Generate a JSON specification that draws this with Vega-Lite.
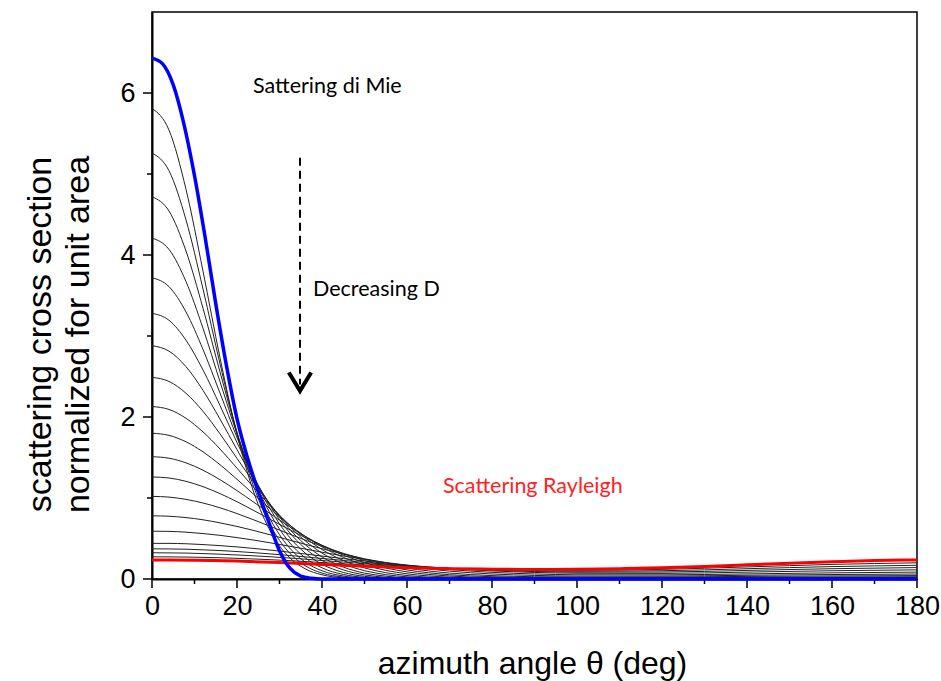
{
"$schema": "https://vega.github.io/schema/vega-lite/v6.json",
"width": 765, "height": 567,
"autosize": {"type": "none"},
"padding": {"left": 152, "top": 12, "right": 24, "bottom": 102},
"background": "white",
"config": {
  "view": {"stroke": "black", "strokeWidth": 1.5},
  "axis": {"grid": false, "domainColor": "black", "domainWidth": 2, "ticks": false,
           "labelFont": "Liberation Sans", "labelFontSize": 27, "labelColor": "black", "labelFlush": false,
           "titleFont": "Liberation Sans", "titleFontWeight": "normal", "titleColor": "black"}
},
"datasets": {
"mie": [
{"c":"b01","x":0,"y":5.81},{"c":"b01","x":4,"y":5.542},{"c":"b01","x":8,"y":4.811},{"c":"b01","x":12,"y":3.8},{"c":"b01","x":16,"y":2.731},{"c":"b01","x":20,"y":1.786},{"c":"b01","x":24,"y":1.063},{"c":"b01","x":28,"y":0.575},{"c":"b01","x":32,"y":0.284},{"c":"b01","x":36,"y":0.127},{"c":"b01","x":40,"y":0.052},{"c":"b01","x":45,"y":0.015},{"c":"b01","x":50,"y":0.004},{"c":"b01","x":55,"y":0},{"c":"b01","x":60,"y":0},{"c":"b01","x":70,"y":0},{"c":"b01","x":80,"y":0},{"c":"b01","x":90,"y":0},{"c":"b01","x":100,"y":0},{"c":"b01","x":120,"y":0},{"c":"b01","x":140,"y":0},{"c":"b01","x":160,"y":0},{"c":"b01","x":180,"y":0},
{"c":"b02","x":0,"y":5.26},{"c":"b02","x":4,"y":5.04},{"c":"b02","x":8,"y":4.434},{"c":"b02","x":12,"y":3.581},{"c":"b02","x":16,"y":2.656},{"c":"b02","x":20,"y":1.808},{"c":"b02","x":24,"y":1.13},{"c":"b02","x":28,"y":0.649},{"c":"b02","x":32,"y":0.342},{"c":"b02","x":36,"y":0.165},{"c":"b02","x":40,"y":0.073},{"c":"b02","x":45,"y":0.024},{"c":"b02","x":50,"y":0.007},{"c":"b02","x":55,"y":0.002},{"c":"b02","x":60,"y":0},{"c":"b02","x":70,"y":0},{"c":"b02","x":80,"y":0},{"c":"b02","x":90,"y":0},{"c":"b02","x":100,"y":0},{"c":"b02","x":120,"y":0},{"c":"b02","x":140,"y":0},{"c":"b02","x":160,"y":0},{"c":"b02","x":180,"y":0},
{"c":"b03","x":0,"y":4.72},{"c":"b03","x":4,"y":4.543},{"c":"b03","x":8,"y":4.049},{"c":"b03","x":12,"y":3.343},{"c":"b03","x":16,"y":2.556},{"c":"b03","x":20,"y":1.81},{"c":"b03","x":24,"y":1.188},{"c":"b03","x":28,"y":0.722},{"c":"b03","x":32,"y":0.406},{"c":"b03","x":36,"y":0.211},{"c":"b03","x":40,"y":0.102},{"c":"b03","x":45,"y":0.037},{"c":"b03","x":50,"y":0.012},{"c":"b03","x":55,"y":0.003},{"c":"b03","x":60,"y":0.001},{"c":"b03","x":70,"y":0},{"c":"b03","x":80,"y":0},{"c":"b03","x":90,"y":0},{"c":"b03","x":100,"y":0},{"c":"b03","x":120,"y":0},{"c":"b03","x":140,"y":0},{"c":"b03","x":160,"y":0},{"c":"b03","x":180,"y":0},
{"c":"b04","x":0,"y":4.21},{"c":"b04","x":4,"y":4.069},{"c":"b04","x":8,"y":3.672},{"c":"b04","x":12,"y":3.095},{"c":"b04","x":16,"y":2.436},{"c":"b04","x":20,"y":1.791},{"c":"b04","x":24,"y":1.229},{"c":"b04","x":28,"y":0.789},{"c":"b04","x":32,"y":0.472},{"c":"b04","x":36,"y":0.264},{"c":"b04","x":40,"y":0.138},{"c":"b04","x":45,"y":0.056},{"c":"b04","x":50,"y":0.02},{"c":"b04","x":55,"y":0.007},{"c":"b04","x":60,"y":0.002},{"c":"b04","x":70,"y":0},{"c":"b04","x":80,"y":0},{"c":"b04","x":90,"y":0},{"c":"b04","x":100,"y":0},{"c":"b04","x":120,"y":0},{"c":"b04","x":140,"y":0},{"c":"b04","x":160,"y":0},{"c":"b04","x":180,"y":0},
{"c":"b05","x":0,"y":3.72},{"c":"b05","x":4,"y":3.609},{"c":"b05","x":8,"y":3.297},{"c":"b05","x":12,"y":2.834},{"c":"b05","x":16,"y":2.295},{"c":"b05","x":20,"y":1.748},{"c":"b05","x":24,"y":1.254},{"c":"b05","x":28,"y":0.847},{"c":"b05","x":32,"y":0.538},{"c":"b05","x":36,"y":0.322},{"c":"b05","x":40,"y":0.182},{"c":"b05","x":45,"y":0.081},{"c":"b05","x":50,"y":0.033},{"c":"b05","x":55,"y":0.012},{"c":"b05","x":60,"y":0.004},{"c":"b05","x":70,"y":0},{"c":"b05","x":80,"y":0},{"c":"b05","x":90,"y":0},{"c":"b05","x":100,"y":0},{"c":"b05","x":120,"y":0},{"c":"b05","x":140,"y":0},{"c":"b05","x":160,"y":0},{"c":"b05","x":180,"y":0},
{"c":"b06","x":0,"y":3.28},{"c":"b06","x":4,"y":3.194},{"c":"b06","x":8,"y":2.948},{"c":"b06","x":12,"y":2.581},{"c":"b06","x":16,"y":2.142},{"c":"b06","x":20,"y":1.685},{"c":"b06","x":24,"y":1.257},{"c":"b06","x":28,"y":0.889},{"c":"b06","x":32,"y":0.596},{"c":"b06","x":36,"y":0.379},{"c":"b06","x":40,"y":0.229},{"c":"b06","x":45,"y":0.113},{"c":"b06","x":50,"y":0.051},{"c":"b06","x":55,"y":0.021},{"c":"b06","x":60,"y":0.008},{"c":"b06","x":70,"y":0.001},{"c":"b06","x":80,"y":0},{"c":"b06","x":90,"y":0},{"c":"b06","x":100,"y":0},{"c":"b06","x":120,"y":0},{"c":"b06","x":140,"y":0},{"c":"b06","x":160,"y":0},{"c":"b06","x":180,"y":0},
{"c":"b07","x":0,"y":2.88},{"c":"b07","x":4,"y":2.813},{"c":"b07","x":8,"y":2.621},{"c":"b07","x":12,"y":2.329},{"c":"b07","x":16,"y":1.974},{"c":"b07","x":20,"y":1.597},{"c":"b07","x":24,"y":1.232},{"c":"b07","x":28,"y":0.907},{"c":"b07","x":32,"y":0.637},{"c":"b07","x":36,"y":0.427},{"c":"b07","x":40,"y":0.273},{"c":"b07","x":45,"y":0.147},{"c":"b07","x":50,"y":0.073},{"c":"b07","x":55,"y":0.035},{"c":"b07","x":60,"y":0.015},{"c":"b07","x":70,"y":0.003},{"c":"b07","x":80,"y":0.001},{"c":"b07","x":90,"y":0.001},{"c":"b07","x":100,"y":0.001},{"c":"b07","x":120,"y":0.001},{"c":"b07","x":140,"y":0.002},{"c":"b07","x":160,"y":0.002},{"c":"b07","x":180,"y":0.002},
{"c":"b08","x":0,"y":2.49},{"c":"b08","x":4,"y":2.439},{"c":"b08","x":8,"y":2.293},{"c":"b08","x":12,"y":2.07},{"c":"b08","x":16,"y":1.792},{"c":"b08","x":20,"y":1.489},{"c":"b08","x":24,"y":1.188},{"c":"b08","x":28,"y":0.91},{"c":"b08","x":32,"y":0.669},{"c":"b08","x":36,"y":0.473},{"c":"b08","x":40,"y":0.321},{"c":"b08","x":45,"y":0.187},{"c":"b08","x":50,"y":0.103},{"c":"b08","x":55,"y":0.054},{"c":"b08","x":60,"y":0.027},{"c":"b08","x":70,"y":0.007},{"c":"b08","x":80,"y":0.003},{"c":"b08","x":90,"y":0.002},{"c":"b08","x":100,"y":0.002},{"c":"b08","x":120,"y":0.003},{"c":"b08","x":140,"y":0.004},{"c":"b08","x":160,"y":0.004},{"c":"b08","x":180,"y":0.005},
{"c":"b09","x":0,"y":2.13},{"c":"b09","x":4,"y":2.093},{"c":"b09","x":8,"y":1.984},{"c":"b09","x":12,"y":1.816},{"c":"b09","x":16,"y":1.605},{"c":"b09","x":20,"y":1.368},{"c":"b09","x":24,"y":1.126},{"c":"b09","x":28,"y":0.894},{"c":"b09","x":32,"y":0.686},{"c":"b09","x":36,"y":0.509},{"c":"b09","x":40,"y":0.364},{"c":"b09","x":45,"y":0.229},{"c":"b09","x":50,"y":0.137},{"c":"b09","x":55,"y":0.078},{"c":"b09","x":60,"y":0.043},{"c":"b09","x":70,"y":0.013},{"c":"b09","x":80,"y":0.005},{"c":"b09","x":90,"y":0.004},{"c":"b09","x":100,"y":0.004},{"c":"b09","x":120,"y":0.004},{"c":"b09","x":140,"y":0.005},{"c":"b09","x":160,"y":0.006},{"c":"b09","x":180,"y":0.007},
{"c":"b10","x":0,"y":1.8},{"c":"b10","x":4,"y":1.773},{"c":"b10","x":8,"y":1.694},{"c":"b10","x":12,"y":1.57},{"c":"b10","x":16,"y":1.411},{"c":"b10","x":20,"y":1.231},{"c":"b10","x":24,"y":1.042},{"c":"b10","x":28,"y":0.856},{"c":"b10","x":32,"y":0.682},{"c":"b10","x":36,"y":0.528},{"c":"b10","x":40,"y":0.397},{"c":"b10","x":45,"y":0.267},{"c":"b10","x":50,"y":0.172},{"c":"b10","x":55,"y":0.107},{"c":"b10","x":60,"y":0.064},{"c":"b10","x":70,"y":0.023},{"c":"b10","x":80,"y":0.01},{"c":"b10","x":90,"y":0.007},{"c":"b10","x":100,"y":0.006},{"c":"b10","x":120,"y":0.007},{"c":"b10","x":140,"y":0.009},{"c":"b10","x":160,"y":0.011},{"c":"b10","x":180,"y":0.012},
{"c":"b11","x":0,"y":1.51},{"c":"b11","x":4,"y":1.491},{"c":"b11","x":8,"y":1.434},{"c":"b11","x":12,"y":1.343},{"c":"b11","x":16,"y":1.226},{"c":"b11","x":20,"y":1.091},{"c":"b11","x":24,"y":0.946},{"c":"b11","x":28,"y":0.799},{"c":"b11","x":32,"y":0.658},{"c":"b11","x":36,"y":0.529},{"c":"b11","x":40,"y":0.414},{"c":"b11","x":45,"y":0.295},{"c":"b11","x":50,"y":0.203},{"c":"b11","x":55,"y":0.136},{"c":"b11","x":60,"y":0.088},{"c":"b11","x":70,"y":0.037},{"c":"b11","x":80,"y":0.017},{"c":"b11","x":90,"y":0.011},{"c":"b11","x":100,"y":0.01},{"c":"b11","x":120,"y":0.011},{"c":"b11","x":140,"y":0.014},{"c":"b11","x":160,"y":0.017},{"c":"b11","x":180,"y":0.019},
{"c":"b12","x":0,"y":1.26},{"c":"b12","x":4,"y":1.247},{"c":"b12","x":8,"y":1.206},{"c":"b12","x":12,"y":1.14},{"c":"b12","x":16,"y":1.054},{"c":"b12","x":20,"y":0.954},{"c":"b12","x":24,"y":0.844},{"c":"b12","x":28,"y":0.731},{"c":"b12","x":32,"y":0.619},{"c":"b12","x":36,"y":0.513},{"c":"b12","x":40,"y":0.417},{"c":"b12","x":45,"y":0.312},{"c":"b12","x":50,"y":0.227},{"c":"b12","x":55,"y":0.161},{"c":"b12","x":60,"y":0.112},{"c":"b12","x":70,"y":0.053},{"c":"b12","x":80,"y":0.028},{"c":"b12","x":90,"y":0.018},{"c":"b12","x":100,"y":0.015},{"c":"b12","x":120,"y":0.017},{"c":"b12","x":140,"y":0.021},{"c":"b12","x":160,"y":0.025},{"c":"b12","x":180,"y":0.028},
{"c":"b13","x":0,"y":1.02},{"c":"b13","x":4,"y":1.011},{"c":"b13","x":8,"y":0.983},{"c":"b13","x":12,"y":0.938},{"c":"b13","x":16,"y":0.879},{"c":"b13","x":20,"y":0.808},{"c":"b13","x":24,"y":0.729},{"c":"b13","x":28,"y":0.646},{"c":"b13","x":32,"y":0.562},{"c":"b13","x":36,"y":0.481},{"c":"b13","x":40,"y":0.404},{"c":"b13","x":45,"y":0.317},{"c":"b13","x":50,"y":0.244},{"c":"b13","x":55,"y":0.183},{"c":"b13","x":60,"y":0.136},{"c":"b13","x":70,"y":0.073},{"c":"b13","x":80,"y":0.042},{"c":"b13","x":90,"y":0.028},{"c":"b13","x":100,"y":0.024},{"c":"b13","x":120,"y":0.025},{"c":"b13","x":140,"y":0.032},{"c":"b13","x":160,"y":0.038},{"c":"b13","x":180,"y":0.042},
{"c":"b14","x":0,"y":0.78},{"c":"b14","x":4,"y":0.775},{"c":"b14","x":8,"y":0.758},{"c":"b14","x":12,"y":0.731},{"c":"b14","x":16,"y":0.693},{"c":"b14","x":20,"y":0.649},{"c":"b14","x":24,"y":0.598},{"c":"b14","x":28,"y":0.543},{"c":"b14","x":32,"y":0.486},{"c":"b14","x":36,"y":0.429},{"c":"b14","x":40,"y":0.374},{"c":"b14","x":45,"y":0.309},{"c":"b14","x":50,"y":0.25},{"c":"b14","x":55,"y":0.2},{"c":"b14","x":60,"y":0.158},{"c":"b14","x":70,"y":0.097},{"c":"b14","x":80,"y":0.062},{"c":"b14","x":90,"y":0.044},{"c":"b14","x":100,"y":0.036},{"c":"b14","x":120,"y":0.036},{"c":"b14","x":140,"y":0.046},{"c":"b14","x":160,"y":0.055},{"c":"b14","x":180,"y":0.061},
{"c":"b15","x":0,"y":0.59},{"c":"b15","x":4,"y":0.588},{"c":"b15","x":8,"y":0.578},{"c":"b15","x":12,"y":0.561},{"c":"b15","x":16,"y":0.539},{"c":"b15","x":20,"y":0.511},{"c":"b15","x":24,"y":0.48},{"c":"b15","x":28,"y":0.445},{"c":"b15","x":32,"y":0.408},{"c":"b15","x":36,"y":0.37},{"c":"b15","x":40,"y":0.331},{"c":"b15","x":45,"y":0.285},{"c":"b15","x":50,"y":0.242},{"c":"b15","x":55,"y":0.204},{"c":"b15","x":60,"y":0.17},{"c":"b15","x":70,"y":0.117},{"c":"b15","x":80,"y":0.082},{"c":"b15","x":90,"y":0.062},{"c":"b15","x":100,"y":0.052},{"c":"b15","x":120,"y":0.051},{"c":"b15","x":140,"y":0.063},{"c":"b15","x":160,"y":0.076},{"c":"b15","x":180,"y":0.085},
{"c":"b16","x":0,"y":0.44},{"c":"b16","x":4,"y":0.44},{"c":"b16","x":8,"y":0.435},{"c":"b16","x":12,"y":0.425},{"c":"b16","x":16,"y":0.412},{"c":"b16","x":20,"y":0.396},{"c":"b16","x":24,"y":0.377},{"c":"b16","x":28,"y":0.356},{"c":"b16","x":32,"y":0.333},{"c":"b16","x":36,"y":0.309},{"c":"b16","x":40,"y":0.283},{"c":"b16","x":45,"y":0.252},{"c":"b16","x":50,"y":0.223},{"c":"b16","x":55,"y":0.196},{"c":"b16","x":60,"y":0.171},{"c":"b16","x":70,"y":0.13},{"c":"b16","x":80,"y":0.1},{"c":"b16","x":90,"y":0.081},{"c":"b16","x":100,"y":0.071},{"c":"b16","x":120,"y":0.069},{"c":"b16","x":140,"y":0.085},{"c":"b16","x":160,"y":0.102},{"c":"b16","x":180,"y":0.113},
{"c":"b17","x":0,"y":0.373},{"c":"b17","x":4,"y":0.371},{"c":"b17","x":8,"y":0.368},{"c":"b17","x":12,"y":0.36},{"c":"b17","x":16,"y":0.351},{"c":"b17","x":20,"y":0.339},{"c":"b17","x":24,"y":0.325},{"c":"b17","x":28,"y":0.309},{"c":"b17","x":32,"y":0.292},{"c":"b17","x":36,"y":0.273},{"c":"b17","x":40,"y":0.253},{"c":"b17","x":45,"y":0.229},{"c":"b17","x":50,"y":0.205},{"c":"b17","x":55,"y":0.184},{"c":"b17","x":60,"y":0.164},{"c":"b17","x":70,"y":0.132},{"c":"b17","x":80,"y":0.108},{"c":"b17","x":90,"y":0.092},{"c":"b17","x":100,"y":0.084},{"c":"b17","x":120,"y":0.086},{"c":"b17","x":140,"y":0.106},{"c":"b17","x":160,"y":0.127},{"c":"b17","x":180,"y":0.141},
{"c":"b18","x":0,"y":0.324},{"c":"b18","x":4,"y":0.322},{"c":"b18","x":8,"y":0.32},{"c":"b18","x":12,"y":0.314},{"c":"b18","x":16,"y":0.306},{"c":"b18","x":20,"y":0.297},{"c":"b18","x":24,"y":0.286},{"c":"b18","x":28,"y":0.274},{"c":"b18","x":32,"y":0.26},{"c":"b18","x":36,"y":0.245},{"c":"b18","x":40,"y":0.228},{"c":"b18","x":45,"y":0.209},{"c":"b18","x":50,"y":0.19},{"c":"b18","x":55,"y":0.173},{"c":"b18","x":60,"y":0.157},{"c":"b18","x":70,"y":0.131},{"c":"b18","x":80,"y":0.113},{"c":"b18","x":90,"y":0.101},{"c":"b18","x":100,"y":0.096},{"c":"b18","x":120,"y":0.102},{"c":"b18","x":140,"y":0.127},{"c":"b18","x":160,"y":0.153},{"c":"b18","x":180,"y":0.169},
{"c":"b19","x":0,"y":0.274},{"c":"b19","x":4,"y":0.273},{"c":"b19","x":8,"y":0.271},{"c":"b19","x":12,"y":0.267},{"c":"b19","x":16,"y":0.262},{"c":"b19","x":20,"y":0.255},{"c":"b19","x":24,"y":0.247},{"c":"b19","x":28,"y":0.238},{"c":"b19","x":32,"y":0.228},{"c":"b19","x":36,"y":0.216},{"c":"b19","x":40,"y":0.203},{"c":"b19","x":45,"y":0.188},{"c":"b19","x":50,"y":0.173},{"c":"b19","x":55,"y":0.161},{"c":"b19","x":60,"y":0.149},{"c":"b19","x":70,"y":0.131},{"c":"b19","x":80,"y":0.118},{"c":"b19","x":90,"y":0.11},{"c":"b19","x":100,"y":0.108},{"c":"b19","x":120,"y":0.119},{"c":"b19","x":140,"y":0.149},{"c":"b19","x":160,"y":0.18},{"c":"b19","x":180,"y":0.2}
],
"blue": [
{"x":0,"y":6.43},{"x":2.5,"y":6.36},{"x":5,"y":6.1},{"x":7.5,"y":5.62},{"x":10,"y":4.98},{"x":12.5,"y":4.22},{"x":15,"y":3.4},{"x":17.5,"y":2.64},{"x":20,"y":1.98},{"x":22.5,"y":1.49},{"x":25,"y":1.08},{"x":27.5,"y":0.7},{"x":30,"y":0.35},{"x":32.5,"y":0.13},{"x":35,"y":0.035},{"x":37.5,"y":0.008},{"x":40,"y":0},{"x":50,"y":0},{"x":60,"y":0},{"x":90,"y":0},{"x":120,"y":0},{"x":180,"y":0}
],
"red": [
{"x":0,"y":0.235},{"x":10,"y":0.232},{"x":20,"y":0.221},{"x":30,"y":0.204},{"x":40,"y":0.18},{"x":50,"y":0.157},{"x":60,"y":0.14},{"x":70,"y":0.128},{"x":80,"y":0.121},{"x":90,"y":0.118},{"x":100,"y":0.12},{"x":110,"y":0.127},{"x":120,"y":0.138},{"x":130,"y":0.155},{"x":140,"y":0.175},{"x":150,"y":0.195},{"x":160,"y":0.212},{"x":170,"y":0.228},{"x":180,"y":0.235}
],
"xmaj": [{"v":0},{"v":20},{"v":40},{"v":60},{"v":80},{"v":100},{"v":120},{"v":140},{"v":160},{"v":180}],
"xmin": [{"v":10},{"v":30},{"v":50},{"v":70},{"v":90},{"v":110},{"v":130},{"v":150},{"v":170}],
"ymaj": [{"v":0},{"v":2},{"v":4},{"v":6}],
"ymin": [{"v":1},{"v":3},{"v":5}],
"arrow": [{"x":34.82,"y":5.2,"y2":2.4}],
"head": [{"x":34.82,"y":2.44}],
"notes": [{"x":23.76,"y":6.074,"t":"Sattering di Mie"},{"x":37.88,"y":3.568,"t":"Decreasing D"}],
"rnote": [{"x":68.47,"y":1.136,"t":"Scattering Rayleigh"}]
},
"layer": [
{"data": {"name": "mie"},
 "mark": {"type": "line", "stroke": "#222222", "strokeWidth": 1, "interpolate": "monotone", "clip": true},
 "encoding": {
  "x": {"field": "x", "type": "quantitative", "scale": {"domain": [0, 180], "nice": false},
        "axis": {"orient": "bottom", "values": [0,20,40,60,80,100,120,140,160,180], "format": "d",
                 "labelPadding": 14,
                 "title": "azimuth angle θ (deg)", "titleFontSize": 32, "titleX": 380, "titleY": 94, "titleAnchor": null, "titleAlign": "center", "titleBaseline": "alphabetic"}},
  "y": {"field": "y", "type": "quantitative", "scale": {"domain": [0, 7], "nice": false},
        "axis": {"orient": "left", "values": [0,2,4,6], "format": "d",
                 "labelPadding": 17,
                 "title": ["scattering cross section", "normalized for unit area"], "titleFontSize": 34, "titleLineHeight": 38,
                 "titleX": -112, "titleY": 322, "titleAngle": -90, "titleAlign": "center", "titleBaseline": "middle"}},
  "detail": {"field": "c", "type": "nominal"}
 }},
{"data": {"name": "xmaj"},
 "mark": {"type": "rule", "stroke": "black", "strokeWidth": 1.5, "clip": false},
 "encoding": {"x": {"field": "v", "type": "quantitative"}, "y": {"datum": 0}, "y2": {"datum": -0.111}}},
{"data": {"name": "xmin"},
 "mark": {"type": "rule", "stroke": "black", "strokeWidth": 1.5, "clip": false},
 "encoding": {"x": {"field": "v", "type": "quantitative"}, "y": {"datum": 0}, "y2": {"datum": -0.062}}},
{"data": {"name": "ymaj"},
 "mark": {"type": "rule", "stroke": "black", "strokeWidth": 1.5, "clip": false},
 "encoding": {"y": {"field": "v", "type": "quantitative"}, "x": {"datum": 0}, "x2": {"datum": -2.12}}},
{"data": {"name": "ymin"},
 "mark": {"type": "rule", "stroke": "black", "strokeWidth": 1.5, "clip": false},
 "encoding": {"y": {"field": "v", "type": "quantitative"}, "x": {"datum": 0}, "x2": {"datum": -1.18}}},
{"data": {"name": "red"},
 "mark": {"type": "line", "stroke": "#ff0000", "strokeWidth": 3, "interpolate": "monotone"},
 "encoding": {
  "x": {"field": "x", "type": "quantitative"},
  "y": {"field": "y", "type": "quantitative"}
 }},
{"data": {"name": "blue"},
 "mark": {"type": "line", "stroke": "#0000ff", "strokeWidth": 3.5, "interpolate": "monotone"},
 "encoding": {
  "x": {"field": "x", "type": "quantitative"},
  "y": {"field": "y", "type": "quantitative"}
 }},
{"data": {"name": "arrow"},
 "mark": {"type": "rule", "stroke": "black", "strokeWidth": 2, "strokeDash": [8, 5]},
 "encoding": {
  "x": {"field": "x", "type": "quantitative"},
  "y": {"field": "y", "type": "quantitative"},
  "y2": {"field": "y2"}
 }},
{"data": {"name": "head"},
 "mark": {"type": "point", "shape": "M-1,-0.8L0,0.85L1,-0.8", "size": 500, "filled": false, "stroke": "black", "strokeWidth": 4, "opacity": 1},
 "encoding": {
  "x": {"field": "x", "type": "quantitative"},
  "y": {"field": "y", "type": "quantitative"}
 }},
{"data": {"name": "rnote"},
 "mark": {"type": "text", "align": "left", "baseline": "middle", "font": "Lato", "fontSize": 21.5, "color": "#ff2222"},
 "encoding": {
  "x": {"field": "x", "type": "quantitative"},
  "y": {"field": "y", "type": "quantitative"},
  "text": {"field": "t"}
 }},
{"data": {"name": "notes"},
 "mark": {"type": "text", "align": "left", "baseline": "middle", "font": "Lato", "fontSize": 21.5, "color": "black"},
 "encoding": {
  "x": {"field": "x", "type": "quantitative"},
  "y": {"field": "y", "type": "quantitative"},
  "text": {"field": "t"}
 }}
]
}
